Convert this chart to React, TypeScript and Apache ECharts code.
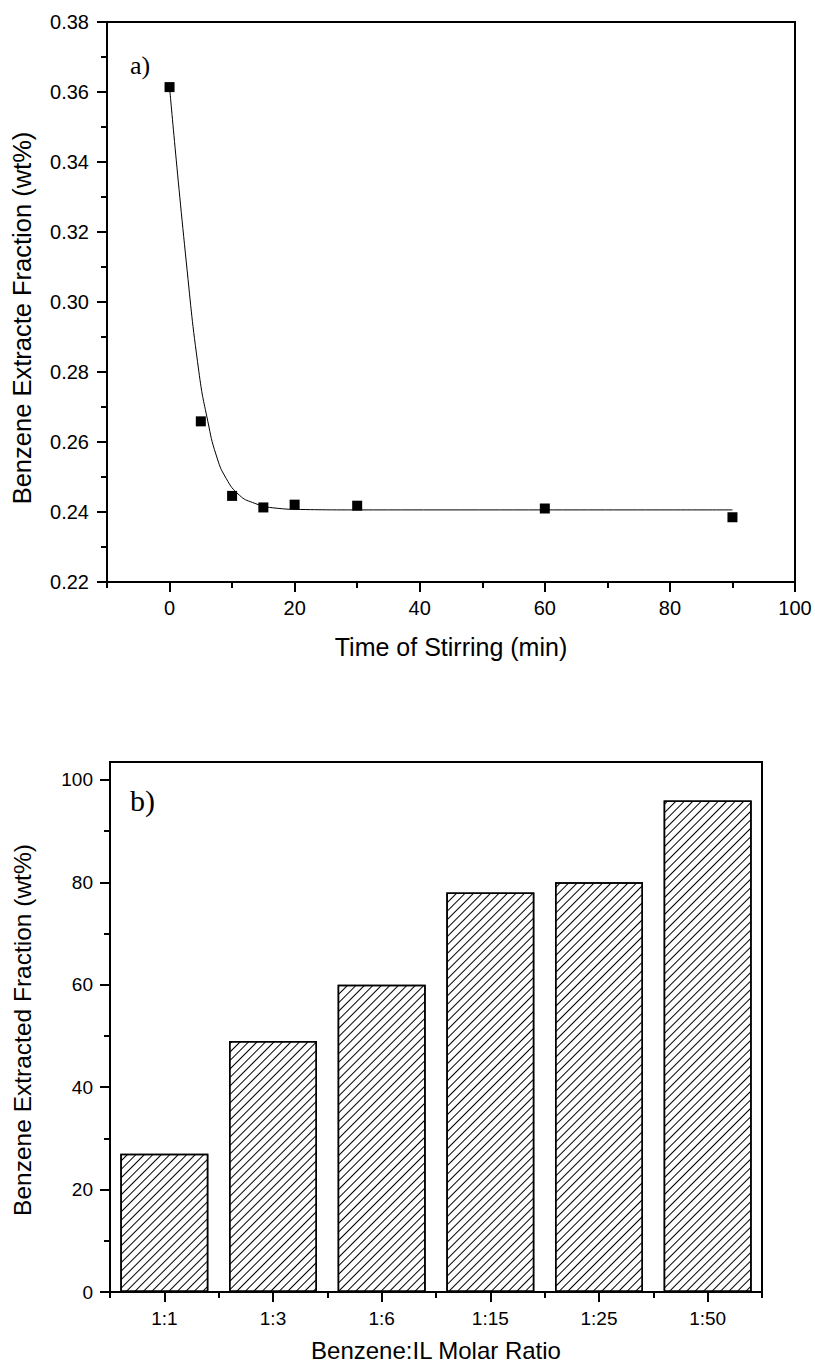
import React, { useEffect, useRef } from "react";
import * as echarts from "echarts";

// ---- Panel a) data ----
const stirTime = [0, 5, 10, 15, 20, 30, 60, 90];
const extracteFraction = [0.3614, 0.2659, 0.2446, 0.2413, 0.2421, 0.2418, 0.241, 0.2385];
// fitted curve, points
const fitTime = [0, 2.66, 4.68, 6.12, 7.45, 9.05, 11.17, 13.3, 16.5, 21.8, 30, 60, 90];
const fitFraction = [0.3614, 0.3117, 0.2802, 0.2659, 0.2563, 0.2496, 0.2448, 0.2427, 0.2412, 0.2407, 0.2406, 0.2406, 0.2406];
const timeTicks = [0, 20, 40, 60, 80, 100];
const timeMinorTicks = [-10, 10, 30, 50, 70, 90];
const fracTicks = [0.22, 0.24, 0.26, 0.28, 0.3, 0.32, 0.34, 0.36, 0.38];
const fracMinorTicks = [0.23, 0.25, 0.27, 0.29, 0.31, 0.33, 0.35, 0.37];

// ---- Panel b) data ----
const ratios = ["1:1", "1:3", "1:6", "1:15", "1:25", "1:50"];
const extractedPct = [27, 49, 60, 78, 80, 96];
const pctTicks = [0, 20, 40, 60, 80, 100];
const pctMinorTicks = [10, 30, 50, 70, 90];

const SANS = '"Liberation Sans", Arial, sans-serif';
const SERIF = '"Liberation Serif", "Times New Roman", serif';
const BLACK = "#000";

export default function App() {
  const ref = useRef<HTMLDivElement>(null);
  useEffect(() => {
    document.body.style.margin = "0";
    if (!ref.current) return;
    const chart = echarts.init(ref.current, null, { renderer: "svg" });

    const lineW = 2;
    const mainValueAxis = (extra: any) => ({
      type: "value",
      axisLine: { show: true, onZero: false, lineStyle: { color: BLACK, width: lineW } },
      splitLine: { show: false },
      ...extra,
    });

    const option: any = {
      animation: false,
      backgroundColor: "#fff",
      grid: [
        { left: 107, top: 22, width: 688, height: 560, show: true, borderColor: BLACK, borderWidth: lineW, backgroundColor: "transparent" },
        { left: 110, top: 762, width: 652, height: 530, show: true, borderColor: BLACK, borderWidth: lineW, backgroundColor: "transparent" },
      ],
      xAxis: [
        mainValueAxis({
          gridIndex: 0, min: -10, max: 100, position: "bottom",
          axisTick: { show: true, length: 10, customValues: timeTicks, lineStyle: { color: BLACK, width: lineW } },
          axisLabel: { customValues: timeTicks, margin: 16, fontSize: 20, color: BLACK, fontFamily: SANS },
        }),
        {
          type: "value", gridIndex: 0, min: -10, max: 100, position: "bottom",
          axisLine: { show: false, onZero: false },
          axisTick: { show: true, length: 6, customValues: timeMinorTicks, lineStyle: { color: BLACK, width: lineW } },
          axisLabel: { show: false }, splitLine: { show: false },
        },
        {
          type: "category", gridIndex: 1, data: ratios, position: "bottom",
          axisLine: { show: true, onZero: false, lineStyle: { color: BLACK, width: lineW } },
          axisTick: { show: true, alignWithLabel: true, length: 10, lineStyle: { color: BLACK, width: lineW } },
          axisLabel: { margin: 17, fontSize: 19, color: BLACK, fontFamily: SANS },
          splitLine: { show: false },
        },
        {
          type: "category", gridIndex: 1, data: ratios, position: "bottom",
          axisLine: { show: false, onZero: false },
          axisTick: { show: true, alignWithLabel: false, length: 6, lineStyle: { color: BLACK, width: lineW } },
          axisLabel: { show: false }, splitLine: { show: false },
        },
      ],
      yAxis: [
        mainValueAxis({
          gridIndex: 0, min: 0.22, max: 0.38, position: "left",
          axisTick: { show: true, length: 10, customValues: fracTicks, lineStyle: { color: BLACK, width: lineW } },
          axisLabel: {
            customValues: fracTicks, margin: 18, fontSize: 20, color: BLACK, fontFamily: SANS,
            formatter: (v: number) => v.toFixed(2),
          },
        }),
        {
          type: "value", gridIndex: 0, min: 0.22, max: 0.38, position: "left",
          axisLine: { show: false, onZero: false },
          axisTick: { show: true, length: 6, customValues: fracMinorTicks, lineStyle: { color: BLACK, width: lineW } },
          axisLabel: { show: false }, splitLine: { show: false },
        },
        mainValueAxis({
          gridIndex: 1, min: 0, max: 103.5, position: "left",
          axisTick: { show: true, length: 10, customValues: pctTicks, lineStyle: { color: BLACK, width: lineW } },
          axisLabel: { customValues: pctTicks, margin: 17, fontSize: 19, color: BLACK, fontFamily: SANS },
        }),
        {
          type: "value", gridIndex: 1, min: 0, max: 103.5, position: "left",
          axisLine: { show: false, onZero: false },
          axisTick: { show: true, length: 6, customValues: pctMinorTicks, lineStyle: { color: BLACK, width: lineW } },
          axisLabel: { show: false }, splitLine: { show: false },
        },
      ],
      series: [
        {
          type: "line", xAxisIndex: 0, yAxisIndex: 0,
          data: fitTime.map((t, i) => [t, fitFraction[i]]),
          smooth: 0.5, showSymbol: false, symbol: "none",
          lineStyle: { color: BLACK, width: 1 }, z: 2,
        },
        {
          type: "scatter", xAxisIndex: 0, yAxisIndex: 0,
          data: stirTime.map((t, i) => [t, extracteFraction[i]]),
          symbol: "rect", symbolSize: 10,
          itemStyle: { color: BLACK, opacity: 1 }, z: 3,
        },
        {
          type: "bar", xAxisIndex: 2, yAxisIndex: 2,
          data: extractedPct, barWidth: 88,
          itemStyle: {
            color: "#fff", borderColor: BLACK, borderWidth: 1.5,
            decal: {
              symbol: "rect", symbolSize: 1, color: BLACK, backgroundColor: "#fff",
              dashArrayX: [1, 0], dashArrayY: [1, 4.6], rotation: -Math.PI / 4,
            },
          },
        },
      ],
      graphic: [
        { type: "text", x: 130, y: 65, style: { text: "a)", font: `26px ${SERIF}`, fill: BLACK, align: "left", verticalAlign: "middle" } },
        { type: "text", x: 130, y: 800, style: { text: "b)", font: `30px ${SERIF}`, fill: BLACK, align: "left", verticalAlign: "middle" } },
        { type: "text", x: 22, y: 318, rotation: Math.PI / 2, style: { text: "Benzene Extracte Fraction (wt%)", font: `25.5px ${SANS}`, fill: BLACK, align: "center", verticalAlign: "middle" } },
        { type: "text", x: 451, y: 647, style: { text: "Time of Stirring (min)", font: `25px ${SANS}`, fill: BLACK, align: "center", verticalAlign: "middle" } },
        { type: "text", x: 22, y: 1030, rotation: Math.PI / 2, style: { text: "Benzene Extracted Fraction (wt%)", font: `24.5px ${SANS}`, fill: BLACK, align: "center", verticalAlign: "middle" } },
        { type: "text", x: 436, y: 1350, style: { text: "Benzene:IL Molar Ratio", font: `24px ${SANS}`, fill: BLACK, align: "center", verticalAlign: "middle" } },
      ],
    };

    chart.setOption(option);
    return () => chart.dispose();
  }, []);

  return <div ref={ref} style={{ width: 815, height: 1365 }} />;
}
